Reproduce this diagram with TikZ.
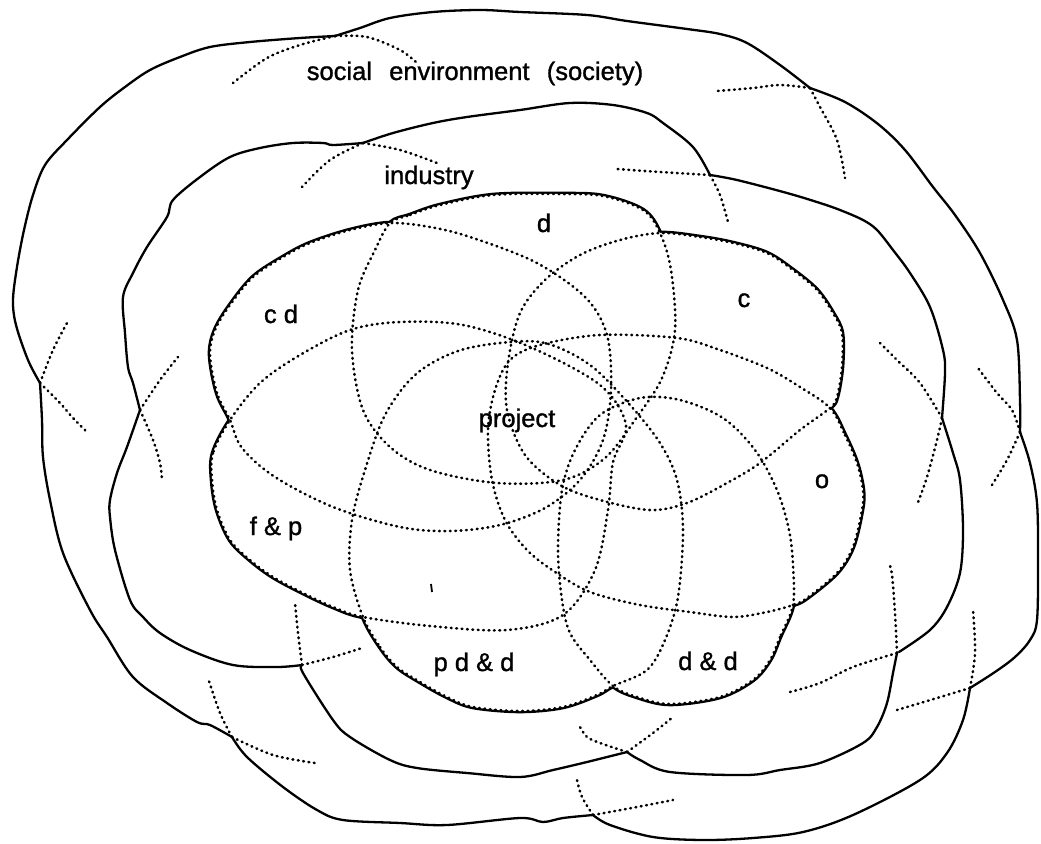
\documentclass[tikz,border=0pt]{standalone}
\usepackage{fontspec}
\setmainfont{Liberation Sans}
\newfontfamily\labelfont[FakeBold=1.2]{Liberation Sans}

% Seven overlapping project areas, each a closed smooth curve
\newcommand{\petalcd}[1]{\path[#1] plot[smooth cycle, tension=0.55] coordinates {
  (230,420) (217,393) (210,355) (215,330) (230,305) (253,277) (283,257) (310,243)
  (350,230) (390,223) (430,227) (470,237) (535,262) (585,297) (607,335) (611,390)
  (603,440) (580,480) (545,508) (500,525) (450,531) (400,527) (333,507) (275,477) (242,448)};}
\newcommand{\petald}[1]{\path[#1] plot[smooth cycle, tension=0.55] coordinates {
  (390,223) (410,215) (440,205) (493,195) (560,194) (603,196) (643,210) (660,233)
  (671,270) (675,330) (662,378) (637,417) (605,458) (563,480) (497,483) (430,470)
  (390,447) (363,410) (352,350) (358,290) (375,250)};}
\newcommand{\petalc}[1]{\path[#1] plot[smooth cycle, tension=0.55] coordinates {
  (660,233) (700,237) (733,243) (767,253) (793,270) (817,290) (833,313) (842,333)
  (842,367) (837,397) (830,408) (800,430) (760,463) (727,483) (687,503) (650,510)
  (600,500) (560,485) (525,455) (507,410) (508,363) (520,313) (545,280) (580,255) (620,240)};}
\newcommand{\petalo}[1]{\path[#1] plot[smooth cycle, tension=0.55] coordinates {
  (830,408) (845,435) (857,463) (863,490) (862,510) (853,547) (837,573) (807,598)
  (793,605) (767,612) (733,617) (690,612) (640,605) (590,592) (555,572) (527,550)
  (505,520) (492,480) (488,430) (495,390) (510,360) (540,345) (600,335) (677,338)
  (720,350) (767,368) (800,387)};}
\newcommand{\petaldd}[1]{\path[#1] plot[smooth cycle, tension=0.55] coordinates {
  (793,605) (780,637) (770,660) (753,680) (720,697) (670,704) (637,697) (613,686)
  (590,660) (570,633) (562,600) (558,550) (562,490) (575,450) (600,415) (640,398)
  (680,400) (723,418) (755,450) (777,490) (789,530) (793,565)};}
\newcommand{\petalpdd}[1]{\path[#1] plot[smooth cycle, tension=0.55] coordinates {
  (363,617) (380,647) (397,667) (420,682) (447,697) (473,707) (520,711) (563,707)
  (597,695) (613,686) (647,670) (665,640) (678,597) (683,530) (677,480) (660,443)
  (630,405) (590,365) (545,343) (500,343) (455,352) (415,375) (385,415) (365,470)
  (352,520) (350,570)};}
\newcommand{\petalfp}[1]{\path[#1] plot[smooth cycle, tension=0.55] coordinates {
  (230,420) (213,453) (212,480) (217,510) (230,540) (250,560) (273,577) (303,593)
  (333,607) (363,617) (430,626) (507,630) (563,615) (595,570) (608,510) (613,462)
  (626,425) (600,385) (530,347) (463,325) (400,322) (350,330) (300,355) (260,383)};}

\begin{document}
\begin{tikzpicture}[x=1pt, y=-1pt,
  outline/.style={draw, line width=2.3pt, line cap=round, line join=round},
  petaledge/.style={draw, line width=4.6pt, line join=round},
  petalfill/.style={fill=white},
  dots/.style={draw, line width=2.6pt, line cap=round, dash pattern=on 0.8pt off 4.6pt},
  curve/.style={smooth, tension=0.55},
  lbl/.style={font=\labelfont\fontsize{25.5}{30}\selectfont, inner sep=0pt, anchor=base}]
\useasboundingbox (0,0) rectangle (1041,843);

% ---- society: outer boundary ----
\path[outline] plot[curve] coordinates {(335,36) (360,28) (390,18) (433,12) (480,10) (520,12) (587,15) (627,21) (687,29) (720,34) (747,43) (780,65) (810,88)};
\path[outline] plot[curve] coordinates {(810,88) (845,102) (878,124) (905,150) (933,187) (955,215) (980,253) (1003,300) (1017,340) (1020,400) (1020,432)};
\path[outline] plot[curve] coordinates {(1020,432) (1030,463) (1037,503) (1038,560) (1037,620) (1030,640) (1015,657) (995,672) (970,688)};
\path[outline] plot[curve] coordinates {(970,688) (963,720) (947,753) (920,780) (853,815) (803,832) (753,838) (703,840) (653,837) (610,825) (593,815)};
\path[outline] plot[curve] coordinates {(593,815) (563,818) (543,822) (520,818) (447,825) (400,823) (343,820) (317,810) (283,787) (247,757) (232,737)};
\path[outline] plot[curve] coordinates {(232,737) (210,725) (197,722) (167,703) (133,677) (107,637) (90,610) (63,553) (50,500) (43,457) (42,420) (40,383)};
\path[outline] plot[curve] coordinates {(40,383) (28,360) (16,325) (13,300) (17,267) (24,230) (33,195) (45,165) (67,140) (100,107) (125,87) (150,70) (180,57) (210,47) (250,42) (300,38) (335,36)};

% society: short continuations where the areas cross
\path[dots] plot[curve] coordinates {(335,36) (300,45) (267,58) (233,83)};
\path[dots] plot[curve] coordinates {(335,36) (367,37) (400,50) (417,63)};
\path[dots] plot[curve] coordinates {(810,88) (780,85) (753,88) (717,91)};
\path[dots] plot[curve] coordinates {(810,88) (820,107) (837,140) (845,178)};
\path[dots] plot[curve] coordinates {(1020,432) (1012,410) (997,393) (978,368)};
\path[dots] plot[curve] coordinates {(1020,432) (1007,460) (992,485)};
\path[dots] plot[curve] coordinates {(970,688) (975,653) (973,610)};
\path[dots] plot[curve] coordinates {(970,688) (937,698) (897,710)};
\path[dots] plot[curve] coordinates {(593,815) (582,797) (577,780)};
\path[dots] plot[curve] coordinates {(593,815) (637,807) (673,800)};
\path[dots] plot[curve] coordinates {(232,737) (220,713) (208,678)};
\path[dots] plot[curve] coordinates {(232,737) (273,755) (315,763)};
\path[dots] plot[curve] coordinates {(40,383) (53,350) (67,323)};
\path[dots] plot[curve] coordinates {(40,383) (60,403) (73,418) (88,433)};

% ---- industry: boundary ----
\path[outline] plot[curve] coordinates {(363,143) (393,133) (433,123) (467,117) (520,110) (570,103) (613,105) (647,113) (663,123) (693,147) (710,175)};
\path[outline] plot[curve] coordinates {(710,175) (737,180) (787,193) (820,203) (840,210) (863,220) (877,230) (893,250) (910,273) (930,307) (943,350) (945,373) (942,418)};
\path[outline] plot[curve] coordinates {(942,418) (953,453) (960,480) (963,530) (960,573) (947,607) (930,630) (899,652)};
\path[outline] plot[curve] coordinates {(897,653) (893,673) (887,703) (877,727) (863,743) (820,763) (780,770) (747,775) (670,772) (640,760) (627,752)};
\path[outline] plot[curve] coordinates {(627,752) (587,762) (553,770) (520,777) (467,773) (417,768) (390,760) (350,737) (333,720) (303,673) (302,665)};
\path[outline] plot[curve] coordinates {(302,665) (277,667) (233,665) (190,650) (160,633) (143,617) (130,600) (115,550) (110,517) (110,500) (117,473) (127,447) (140,410)};
\path[outline] plot[curve] coordinates {(140,410) (133,383) (128,367) (125,333) (123,297) (133,273) (147,247) (167,217) (173,200) (200,177) (230,157) (260,148) (293,143) (323,143) (333,145) (363,143)};

% industry: short continuations
\path[dots] plot[curve] coordinates {(363,143) (330,160) (302,187)};
\path[dots] plot[curve] coordinates {(363,143) (400,150) (437,163)};
\path[dots] plot[curve] coordinates {(710,175) (660,172) (617,169)};
\path[dots] plot[curve] coordinates {(710,175) (720,195) (728,222)};
\path[dots] plot[curve] coordinates {(942,418) (920,383) (897,360) (880,343)};
\path[dots] plot[curve] coordinates {(942,418) (937,440) (927,477) (917,505)};
\path[dots] plot[curve] coordinates {(897,653) (895,613) (892,575) (889,563)};
\path[dots] plot[curve] coordinates {(897,653) (853,667) (820,683) (790,692)};
\path[dots] plot[curve] coordinates {(627,752) (600,743) (587,737) (580,727)};
\path[dots] plot[curve] coordinates {(627,752) (653,733) (673,717)};
\path[dots] plot[curve] coordinates {(302,665) (298,633) (295,603)};
\path[dots] plot[curve] coordinates {(302,665) (333,657) (362,648)};
\path[dots] plot[curve] coordinates {(140,410) (160,380) (178,357)};
\path[dots] plot[curve] coordinates {(140,410) (153,440) (160,463) (162,480)};

% ---- project: outer edges solid, inner edges dotted ----
\petalcd{petaledge}  \petald{petaledge}  \petalc{petaledge}  \petalo{petaledge}
\petaldd{petaledge}  \petalpdd{petaledge} \petalfp{petaledge}
\petalcd{petalfill}  \petald{petalfill}  \petalc{petalfill}  \petalo{petalfill}
\petaldd{petalfill}  \petalpdd{petalfill} \petalfp{petalfill}
\petalcd{dots}  \petald{dots}  \petalc{dots}  \petalo{dots}
\petaldd{dots}  \petalpdd{dots} \petalfp{dots}

\draw[line width=1.8pt] (431,584) -- (432,592);

% ---- labels ----
\node[lbl] (society) at (475,80) {social\hspace{0.4em} environment\hspace{0.4em} (society)};
\node[lbl] (industry) at (429,184) {industry};
\node[lbl] (d) at (544,232) {d};
\node[lbl] (cd) at (281,323) {c d};
\node[lbl] (c) at (744,307) {c};
\node[lbl] (o) at (822,488) {o};
\node[lbl] (project) at (517,427) {project};
\node[lbl] (fp) at (276,535) {f \& p};
\node[lbl] (pdd) at (474,671) {p d \& d};
\node[lbl] (dd) at (708,670) {d \& d};
\end{tikzpicture}
\end{document}
